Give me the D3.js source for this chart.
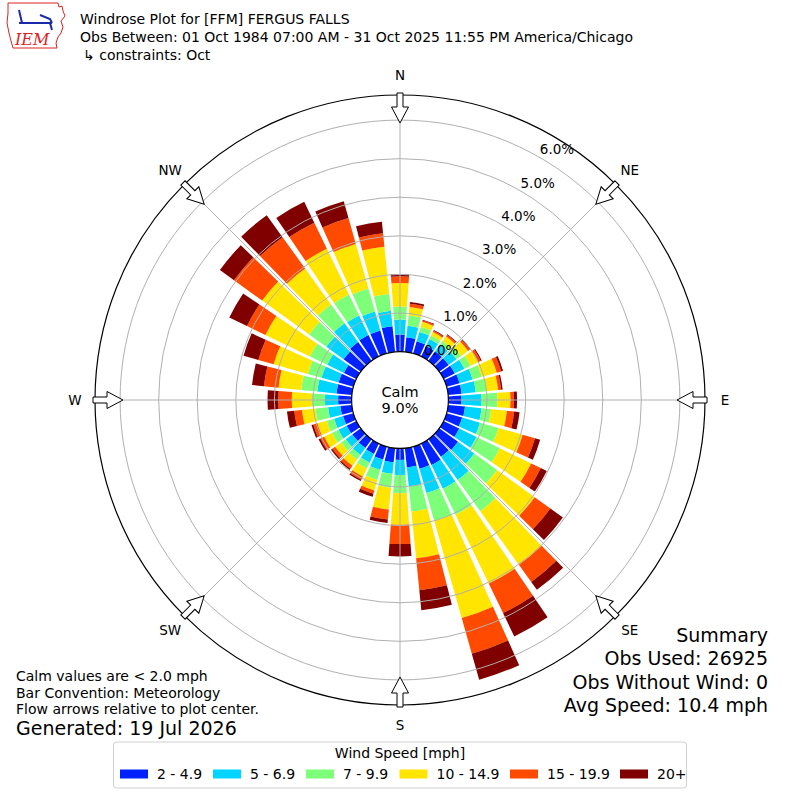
<!DOCTYPE html>
<html lang="en">
<head>
<meta charset="utf-8">
<title>Windrose Plot FFM</title>
<script src="https://cdn.jsdelivr.net/npm/d3@7"></script>
<style>
  body { margin: 0; background: #fff; }
  svg text { font-family: "DejaVu Sans", sans-serif; fill: #000; }
</style>
</head>
<body>
<script>
// directions (degrees, meteorological) and speed bins
var directions = [0, 10, 20, 30, 40, 50, 60, 70, 80, 90, 100, 110, 120, 130, 140, 150, 160, 170,
                  180, 190, 200, 210, 220, 230, 240, 250, 260, 270, 280, 290, 300, 310, 320, 330, 340, 350];
var speedBins = ["2 - 4.9", "5 - 6.9", "7 - 9.9", "10 - 14.9", "15 - 19.9", "20+"];
var binColors = ["#0022ff", "#00d4ff", "#7dff7a", "#ffe500", "#ff4a00", "#800000"];

// frequency (%) per direction for each speed bin
var s2to5 = [0.44, 0.38, 0.33, 0.30, 0.30, 0.30, 0.32, 0.35, 0.35, 0.34, 0.44, 0.42, 0.45, 0.60, 0.56, 0.62, 0.60, 0.50,
             0.30, 0.37, 0.35, 0.30, 0.28, 0.27, 0.28, 0.28, 0.30, 0.35, 0.40, 0.40, 0.36, 0.55, 0.60, 0.62, 0.62, 0.67];
var s5to7 = [0.39, 0.30, 0.25, 0.20, 0.22, 0.25, 0.28, 0.35, 0.37, 0.52, 0.43, 0.48, 0.50, 0.52, 0.74, 0.68, 0.65, 0.50,
             0.39, 0.30, 0.28, 0.25, 0.22, 0.21, 0.24, 0.24, 0.32, 0.34, 0.50, 0.46, 0.48, 0.55, 0.60, 0.56, 0.51, 0.40];
var s7to10 = [0.34, 0.27, 0.14, 0.10, 0.11, 0.15, 0.18, 0.25, 0.28, 0.41, 0.25, 0.50, 0.67, 0.73, 1.00, 0.75, 0.75, 0.65,
              0.47, 0.36, 0.27, 0.17, 0.15, 0.15, 0.18, 0.20, 0.33, 0.34, 0.42, 0.37, 0.50, 0.55, 0.60, 0.60, 0.62, 0.44];
var s10to15 = [0.61, 0.22, 0.13, 0.10, 0.15, 0.22, 0.22, 0.40, 0.30, 0.34, 0.41, 0.65, 0.90, 1.20, 1.71, 1.98, 2.62, 1.22,
               0.82, 0.57, 0.28, 0.23, 0.20, 0.19, 0.23, 0.25, 0.35, 0.52, 0.59, 0.92, 1.28, 1.50, 1.15, 1.32, 1.20, 1.23];
var s15to20 = [0.17, 0.08, 0.04, 0.04, 0.05, 0.06, 0.07, 0.12, 0.08, 0.09, 0.19, 0.33, 0.28, 0.50, 0.55, 0.85, 0.96, 0.83,
               0.50, 0.26, 0.09, 0.09, 0.09, 0.09, 0.11, 0.11, 0.20, 0.35, 0.38, 0.41, 0.53, 0.90, 1.00, 0.75, 0.70, 0.35];
var s20plus = [0.06, 0.05, 0.02, 0.02, 0.02, 0.02, 0.03, 0.05, 0.04, 0.08, 0.14, 0.14, 0.17, 0.40, 0.25, 0.67, 0.70, 0.52,
               0.32, 0.09, 0.08, 0.04, 0.04, 0.04, 0.05, 0.05, 0.19, 0.28, 0.31, 0.40, 0.51, 0.45, 0.70, 0.60, 0.45, 0.30];

var rTicks = [0, 1, 2, 3, 4, 5, 6];
var compass = ["N", "NE", "E", "SE", "S", "SW", "W", "NW"];
var calmPct = 9.0;

var w = 800, h = 800;
var cx = 400, cy = 400;

var svg = d3.select("body").append("svg")
    .attr("width", w)
    .attr("height", h);

// scales
var rScale = d3.scaleLinear().domain([0, 6.65]).range([48.4, 305]);
var aScale = d3.scaleLinear().domain([0, 360]).range([0, 2 * Math.PI]);
var halfW = aScale(8.4) / 2;

var keys = ["b0", "b1", "b2", "b3", "b4", "b5"];
var bins = [s2to5, s5to7, s7to10, s10to15, s15to20, s20plus];
var rows = directions.map(function(d, i) {
    var o = {dir: d};
    keys.forEach(function(k, j) { o[k] = bins[j][i]; });
    return o;
});
var stacked = d3.stack().keys(keys)(rows);

var plot = svg.append("g").attr("transform", "translate(" + cx + "," + cy + ")");

var arc = d3.arc()
    .innerRadius(function(d) { return rScale(d[0]); })
    .outerRadius(function(d) { return rScale(d[1]); })
    .startAngle(function(d) { return aScale(d.data.dir) - halfW; })
    .endAngle(function(d) { return aScale(d.data.dir) + halfW; });

// bars
plot.selectAll("g.layer")
    .data(stacked)
    .enter()
    .append("g")
    .attr("class", "layer")
    .attr("fill", function(d, i) { return binColors[i]; })
    .selectAll("path")
    .data(function(d) { return d; })
    .enter()
    .append("path")
    .attr("d", arc);

// grid circles
plot.selectAll("circle.grid")
    .data(rTicks.slice(1))
    .enter()
    .append("circle")
    .attr("class", "grid")
    .attr("r", function(d) { return rScale(d); })
    .attr("fill", "none")
    .attr("stroke", "#b0b0b0")
    .attr("stroke-width", 1);

// spokes
plot.selectAll("line.spoke")
    .data(d3.range(0, 360, 45))
    .enter()
    .append("line")
    .attr("class", "spoke")
    .attr("x1", 0).attr("y1", 0)
    .attr("x2", function(d) { return 305 * Math.sin(aScale(d)); })
    .attr("y2", function(d) { return -305 * Math.cos(aScale(d)); })
    .attr("stroke", "#b0b0b0")
    .attr("stroke-width", 1);

// outer frame
plot.append("circle")
    .attr("r", rScale(6.65))
    .attr("fill", "none")
    .attr("stroke", "#000")
    .attr("stroke-width", 1.2);

// calm circle
plot.append("circle")
    .attr("r", rScale(0))
    .attr("fill", "#fff")
    .attr("stroke", "#000")
    .attr("stroke-width", 1.2);
plot.append("text")
    .attr("x", 0).attr("y", -8)
    .attr("text-anchor", "middle")
    .attr("dominant-baseline", "central")
    .style("font-size", "14.5px")
    .text("Calm");
plot.append("text")
    .attr("x", 0).attr("y", 8)
    .attr("text-anchor", "middle")
    .attr("dominant-baseline", "central")
    .style("font-size", "14.5px")
    .text(calmPct.toFixed(1) + "%");

// radial tick labels
var lblA = aScale(30);
plot.selectAll("text.rtick")
    .data(rTicks)
    .enter()
    .append("text")
    .attr("class", "rtick")
    .attr("x", function(d) { return rScale(d) * Math.sin(lblA) + 17; })
    .attr("y", function(d) { return -rScale(d) * Math.cos(lblA) - 8.5; })
    .attr("text-anchor", "middle")
    .attr("dominant-baseline", "central")
    .style("font-size", "13.5px")
    .text(function(d) { return d.toFixed(1) + "%"; });

// flow arrows
plot.selectAll("path.arrow")
    .data(d3.range(0, 360, 45))
    .enter()
    .append("path")
    .attr("class", "arrow")
    .attr("d", "M-3,-307 L3,-307 L3,-293 L8.5,-293 L0,-277 L-8.5,-293 L-3,-293 Z")
    .attr("transform", function(d) { return "rotate(" + d + ")"; })
    .attr("fill", "#fff")
    .attr("stroke", "#000")
    .attr("stroke-width", 1);

// compass labels
plot.selectAll("text.compass")
    .data(compass)
    .enter()
    .append("text")
    .attr("class", "compass")
    .attr("x", function(d, i) { return 325 * Math.sin(aScale(i * 45)); })
    .attr("y", function(d, i) { return -325 * Math.cos(aScale(i * 45)); })
    .attr("text-anchor", "middle")
    .attr("dominant-baseline", "central")
    .style("font-size", "13.5px")
    .text(function(d) { return d; });

// logo
var logo = svg.append("g");
logo.append("path")
    .attr("d", "M8,3 L58,3 L59,7 L62,6 L63,11 L65,16 L61,21 L63,27 L61,33 L58,37 L56,43 L57,48 L13,48 L11,41 L9,33 L7,23 L8,13 Z")
    .attr("fill", "none")
    .attr("stroke", "#d22")
    .attr("stroke-width", 1);
logo.append("path")
    .attr("d", "M19,23 L52,23 M19,10 L22,23 M40,15 L50,19 L52,23 M50,23 L52,30")
    .attr("fill", "none")
    .attr("stroke", "#1a2aa8")
    .attr("stroke-width", 2);
logo.append("text")
    .attr("x", 15).attr("y", 45)
    .style("font-family", "DejaVu Serif, serif")
    .style("font-style", "italic")
    .style("font-size", "16px")
    .style("fill", "#d22")
    .text("IEM");

// titles
var titles = ["Windrose Plot for [FFM] FERGUS FALLS",
              "Obs Between: 01 Oct 1984 07:00 AM - 31 Oct 2025 11:55 PM America/Chicago",
              "\u21b3 constraints: Oct"];
svg.selectAll("text.title")
    .data(titles)
    .enter()
    .append("text")
    .attr("class", "title")
    .attr("x", function(d, i) { return i == 2 ? 83 : 80; })
    .attr("y", function(d, i) { return 24 + i * 18; })
    .style("font-size", "14px")
    .text(function(d) { return d; });

// bottom-left notes
var notes = ["Calm values are < 2.0 mph", "Bar Convention: Meteorology", "Flow arrows relative to plot center."];
svg.selectAll("text.note")
    .data(notes)
    .enter()
    .append("text")
    .attr("class", "note")
    .attr("x", 16)
    .attr("y", function(d, i) { return 681 + i * 16.7; })
    .style("font-size", "14px")
    .text(function(d) { return d; });
svg.append("text")
    .attr("x", 16).attr("y", 735)
    .style("font-size", "19px")
    .text("Generated: 19 Jul 2026");

// summary
var summary = ["Summary", "Obs Used: 26925", "Obs Without Wind: 0", "Avg Speed: 10.4 mph"];
svg.selectAll("text.summary")
    .data(summary)
    .enter()
    .append("text")
    .attr("class", "summary")
    .attr("x", 768)
    .attr("y", function(d, i) { return 642 + i * 23.3; })
    .attr("text-anchor", "end")
    .style("font-size", "19px")
    .text(function(d) { return d; });

// legend
var legend = svg.append("g");
legend.append("rect")
    .attr("x", 113.5).attr("y", 742)
    .attr("width", 573).attr("height", 46)
    .attr("rx", 3)
    .attr("fill", "#fff")
    .attr("stroke", "#d0d0d0");
legend.append("text")
    .attr("x", 400).attr("y", 753)
    .attr("text-anchor", "middle")
    .attr("dominant-baseline", "central")
    .style("font-size", "14px")
    .text("Wind Speed [mph]");
var swX = [120, 213, 306, 399.5, 510, 620];
var item = legend.selectAll("g.item")
    .data(speedBins)
    .enter()
    .append("g")
    .attr("class", "item")
    .attr("transform", function(d, i) { return "translate(" + swX[i] + ",774)"; });
item.append("rect")
    .attr("x", 0).attr("y", -4.5)
    .attr("width", 28).attr("height", 9)
    .attr("fill", function(d, i) { return binColors[i]; });
item.append("text")
    .attr("x", 37).attr("y", 0)
    .attr("dominant-baseline", "central")
    .style("font-size", "14px")
    .text(function(d) { return d; });
</script>
</body>
</html>
